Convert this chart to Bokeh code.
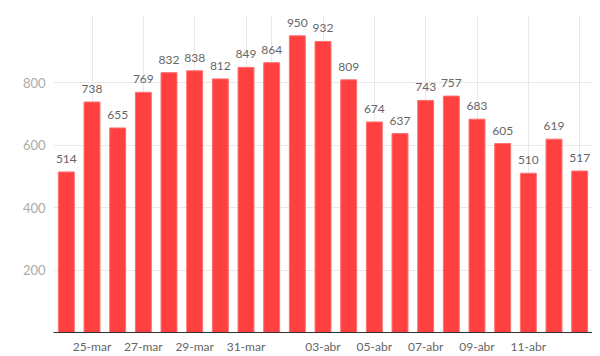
from bokeh.plotting import figure
from bokeh.models import ColumnDataSource, FixedTicker, Range1d
from bokeh.core.properties import value
from bokeh.embed import file_html
from bokeh.resources import INLINE

dates = ["24-mar", "25-mar", "26-mar", "27-mar", "28-mar", "29-mar", "30-mar",
         "31-mar", "01-abr", "02-abr", "03-abr", "04-abr", "05-abr", "06-abr",
         "07-abr", "08-abr", "09-abr", "10-abr", "11-abr", "12-abr", "13-abr"]
values = [514, 738, 655, 769, 832, 838, 812, 849, 864, 950, 932, 809, 674,
          637, 743, 757, 683, 605, 510, 619, 517]
shown_labels = ["25-mar", "27-mar", "29-mar", "31-mar", "03-abr", "05-abr",
                "07-abr", "09-abr", "11-abr"]
grid_dates = ["25-mar", "27-mar", "29-mar", "31-mar", "01-abr", "03-abr",
              "05-abr", "07-abr", "09-abr", "11-abr", "13-abr"]
y_ticks = [200, 400, 600, 800]

idx = list(range(len(dates)))
src = ColumnDataSource(dict(x=idx, top=values, label=[str(v) for v in values]))

p = figure(width=592, height=356, output_backend="svg", toolbar_location=None,
           x_range=Range1d(-0.5, len(dates) - 0.5), y_range=Range1d(0, 1015),
           min_border_left=53, min_border_right=0, min_border_top=15, min_border_bottom=22)
p.outline_line_color = None
p.background_fill_color = "white"
p.border_fill_color = "white"

p.vbar(x="x", top="top", width=0.62, source=src, fill_color="#ff4040",
       line_color="#ff7070", line_width=1)
p.text(x="x", y="top", text="label", source=src, text_align="center",
       text_baseline="bottom", y_offset=-9, text_font=value("Lato"),
       text_font_size="12px", text_color="#666666")

# x axis
lab_pos = [dates.index(d) for d in shown_labels]
p.xaxis.ticker = FixedTicker(ticks=lab_pos)
p.xaxis.major_label_overrides = {i: dates[i] for i in lab_pos}
p.xaxis.major_tick_line_color = None
p.xaxis.minor_tick_line_color = None
p.xaxis.major_tick_out = 0
p.xaxis.major_tick_in = 0
p.xaxis.minor_tick_out = 0
p.xaxis.axis_line_color = "#333333"
p.xaxis.major_label_text_font = "Lato"
p.xaxis.major_label_text_font_size = "12px"
p.xaxis.major_label_text_color = "#666666"
p.xaxis.major_label_standoff = 6

# y axis
p.yaxis.ticker = FixedTicker(ticks=y_ticks)
p.yaxis.axis_line_color = None
p.yaxis.major_tick_line_color = None
p.yaxis.minor_tick_line_color = None
p.yaxis.major_tick_out = 0
p.yaxis.major_tick_in = 0
p.yaxis.major_label_text_font = "Lato"
p.yaxis.major_label_text_font_size = "13px"
p.yaxis.major_label_text_color = "#aaaaaa"
p.yaxis.major_label_standoff = 8

p.xgrid.ticker = FixedTicker(ticks=[dates.index(d) for d in grid_dates])
p.xgrid.grid_line_color = "#e8e8e8"
p.ygrid.grid_line_color = "#e8e8e8"

open("out.html", "w").write(file_html(p, INLINE))
